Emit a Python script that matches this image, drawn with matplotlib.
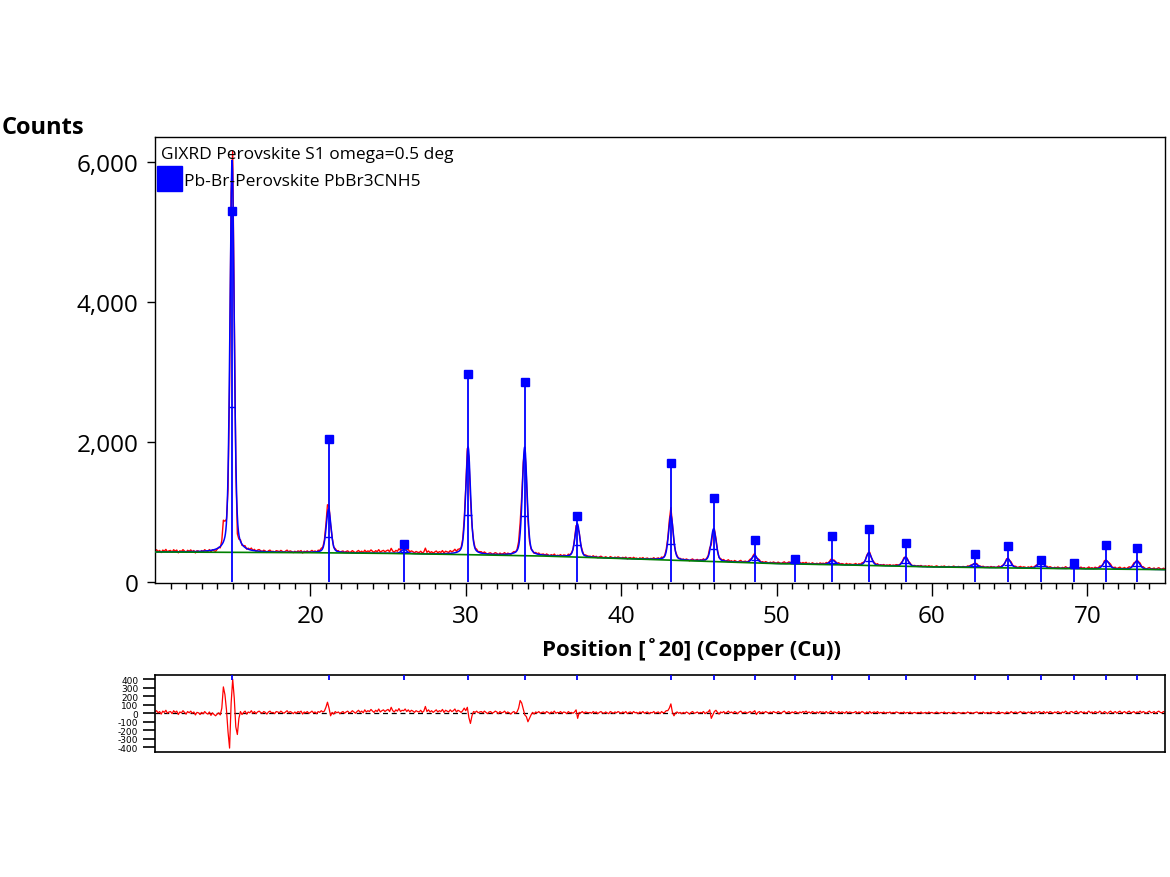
import numpy as np
import matplotlib
matplotlib.use("Agg")
import matplotlib.pyplot as plt
from matplotlib.patches import Rectangle
import matplotlib.transforms as mtransforms

# ---------------- data ----------------
peak_pos = [14.96, 21.17, 26.03, 30.15, 33.79, 37.18, 43.20, 45.95, 48.59, 51.16,
            53.60, 55.94, 58.30, 62.75, 64.89, 67.01, 69.16, 71.22, 73.19]
peak_height = [5600, 625, 60, 1537, 1550, 475, 640, 467, 106, 35,
               60, 180, 130, 52, 130, 90, 20, 120, 118]
peak_fwhm = [0.32, 0.36, 0.40, 0.36, 0.36, 0.36, 0.36, 0.38, 0.40, 0.45,
             0.45, 0.40, 0.40, 0.45, 0.42, 0.45, 0.45, 0.45, 0.45]
ref_intensity = [5300, 2043, 547, 2968, 2862, 939, 1705, 1205, 605, 329,
                 657, 757, 553, 400, 510, 310, 271, 524, 481]
bg_pos = [10, 20, 25, 30, 35, 40, 45, 50, 55, 60, 65, 70, 75]
bg_val = [428, 418, 408, 390, 370, 335, 298, 262, 240, 215, 200, 187, 176]

resid_start = 10.0
resid_step = 0.1
residual = [
    15, 30, 5, 20, -10, 25, 10, 35, 0, 15,          # 10
    20, -5, 30, 10, 25, -15, 15, 5, 30, 10,         # 11
    -10, 20, 5, 25, 0, 15, -20, 10, 5, -15,         # 12
    10, -5, 20, 0, -10, 15, -25, 5, -15, -30,       # 13
    -10, 5, -20, 60, 310, 220, 40, -220, -410, 120,  # 14
    400, 180, -160, -250, -60, 20, -15, 10, 25, -10,  # 15
    15, 5, 30, 0, 20, -5, 15, 25, 10, 0,            # 16
    20, 10, -10, 15, 25, 5, 10, -5, 20, 15,         # 17
    5, 25, 10, 0, 15, 30, 5, 20, 10, -5,            # 18
    15, 0, 20, 10, 25, -10, 15, 5, 20, 0,           # 19
    10, 25, 5, 15, -5, 20, 10, 30, 15, 25,          # 20
    70, 130, 60, -30, 10, -10, 20, 5, 15, -5,       # 21
    10, 20, 0, 15, 25, 5, 10, 30, 15, 0,            # 22
    20, 35, 10, 25, 5, 40, 15, 30, 20, 45,          # 23
    25, 10, 35, 20, 50, 15, 30, 40, 20, 35,         # 24
    45, 20, 70, 30, 15, 40, 25, 55, 20, 35,         # 25
    30, 50, 20, 40, 15, 35, 25, 10, 30, 20,         # 26
    15, 35, 10, 25, 80, 20, 40, 15, 30, 10,         # 27
    25, 40, 15, 30, 20, 45, 10, 35, 25, 15,         # 28
    40, 20, 30, 50, 15, 35, 25, 10, 30, 60,         # 29
    30, 70, -50, -120, -30, 20, 10, 25, 5, 15,      # 30
    20, 5, 25, 10, -5, 15, 20, 0, 10, 25,           # 31
    15, -5, 20, 5, 10, 25, 0, 15, 5, -10,           # 32
    10, 20, 0, 15, 60, 150, 120, 50, -20, -40,      # 33
    -100, -60, -20, 10, -10, 15, 5, 20, 0, 10,      # 34
    15, 0, 20, 10, -5, 15, 5, 25, 0, 10,            # 35
    5, 20, 0, 15, 10, -5, 20, 5, 10, 0,             # 36
    15, 40, -60, 10, 5, 20, 0, 15, 10, 5,           # 37
    10, 0, 20, 5, 15, -5, 10, 20, 5, 0,             # 38
    15, 5, -5, 20, 10, 0, 15, 5, 20, 10,            # 39
    0, 15, 5, 20, -5, 10, 15, 0, 20, 5,             # 40
    10, -5, 15, 5, 20, 0, 10, 15, -5, 10,           # 41
    5, 20, 0, 10, 15, -5, 20, 5, 10, 30,            # 42
    30, 60, 110, 10, -30, 5, 15, 0, 10, -5,         # 43
    10, 0, 15, 5, -10, 10, 20, 0, 5, 15,            # 44
    0, 10, 5, 20, -5, 10, 15, 40, -60, -20,         # 45
    20, 35, 10, -10, 15, 5, 20, 0, 10, 25,          # 46
    5, 15, 0, 20, 10, -5, 15, 25, 5, 10,            # 47
    15, 0, 10, 20, 5, 15, 30, -15, 10, 20,          # 48
    0, 15, 5, 20, 10, 0, 15, 5, 20, 10,             # 49
    5, 20, 10, 0, 15, 25, 5, 10, 20, 0,             # 50
    15, 5, 20, 10, 0, 15, 5, 20, 10, 25,            # 51
    5, 15, 0, 20, 10, 5, 15, 0, 20, 10,             # 52
    15, 5, 20, 0, 10, 25, 5, 15, 10, 0,             # 53
    20, 5, 15, 10, 0, 20, 5, 15, 10, 5,             # 54
    10, 20, 0, 15, 5, 20, 10, -5, 15, 5,            # 55
    20, 0, 10, 15, 5, 20, 0, 10, 5, 15,             # 56
    0, 10, 5, 15, 0, 10, 5, 15, 10, 0,              # 57
    10, 5, 15, 0, 10, 5, 15, 0, 5, 10,              # 58
    0, 10, 5, 15, 0, 5, 10, 0, 15, 5,               # 59
    10, 0, 5, 15, 5, 0, 10, 5, 15, 0,               # 60
    5, 10, 0, 5, 15, 5, 0, 10, 5, 0,                # 61
    10, 5, 0, 15, 5, 10, 0, 5, 10, 15,              # 62
    0, 10, 5, 15, 0, 5, 10, 0, 15, 5,               # 63
    10, 0, 5, 20, 0, 10, 5, -5, 15, 10,             # 64
    0, 20, 5, 10, 15, 0, 10, 20, 5, 15,             # 65
    10, 0, 15, 5, 20, 0, 10, 15, 5, 20,             # 66
    10, 5, 20, 0, 15, 5, 20, 10, 0, 15,             # 67
    5, 20, 10, 0, 15, 5, 25, 10, 0, 15,             # 68
    20, 5, 15, 25, 0, 10, 20, 5, 15, 0,             # 69
    10, 25, 5, 15, 0, 20, 10, 5, 25, 10,            # 70
    0, 20, 10, -5, 15, 25, 5, 10, 20, 0,            # 71
    15, 25, 5, 10, 20, 0, 15, 25, 5, 10,            # 72
    20, 0, 15, 10, 25, 5, 20, 10, 0, 15,            # 73
    25, 5, 10, 20, 0, 15, 25, 10, 5, 20,            # 74
    10,                                             # 75
]

ytick_vals = [0, 2000, 4000, 6000]
ytick_labels = ["0", "2,000", "4,000", "6,000"]
xtick_vals = [20, 30, 40, 50, 60, 70]
res_ticks = [400, 300, 200, 100, 0, -100, -200, -300, -400]

title_text = "GIXRD Perovskite S1 omega=0.5 deg"
phase_text = "Pb-Br-Perovskite PbBr3CNH5"
ylabel_text = "Counts"
xlabel_text = "Position [˚20] (Copper (Cu))"

# ---------------- model ----------------
def calc_profile(x):
    y = np.interp(x, bg_pos, bg_val).astype(float)
    for p, h, w in zip(peak_pos, peak_height, peak_fwhm):
        d = (x - p) / w
        lor = 1.0 / (1.0 + 4.0 * d ** 2)
        gau = np.exp(-4.0 * np.log(2) * d ** 2)
        y += h * (0.35 * lor + 0.65 * gau)
    return y

x_res = resid_start + resid_step * np.arange(len(residual))
res = np.array(residual, dtype=float)
obs = calc_profile(x_res) + res
x_fine = np.arange(10.0, 75.0001, 0.01)
calc = calc_profile(x_fine)

plt.rcParams['font.family'] = ['Open Sans', 'DejaVu Sans']

fig = plt.figure(figsize=(11.7, 8.78), dpi=100)
W, H = 1170, 878
ax = fig.add_axes([155 / W, 1 - 584 / H, 1010 / W, 446 / H])
ax2 = fig.add_axes([155 / W, 1 - 752.5 / H, 1010 / W, 76.5 / H])

BLUE = '#0000FF'
# observed
ax.plot(x_res, obs, color='red', lw=1.0, zorder=2)
# calculated
ax.plot(x_fine, calc, color=BLUE, lw=1.1, zorder=3)
# background
ax.plot(bg_pos, bg_val, color='#008000', lw=1.2, zorder=4)
# FWHM-type bars
for p, h, w in zip(peak_pos, peak_height, peak_fwhm):
    yb = np.interp(p, bg_pos, bg_val) + 0.37 * h
    ax.hlines(yb, p - 0.65 * w, p + 0.65 * w, color=BLUE, lw=1.0, zorder=5)
# reference sticks
ax.vlines(peak_pos, 0, ref_intensity, color=BLUE, lw=1.3, zorder=6)
ax.plot(peak_pos, ref_intensity, ls='none', marker='s', ms=5.5,
        color=BLUE, zorder=7)

ax.set_xlim(10, 75)
ax.set_ylim(-15, 6357)
ax.set_yticks(ytick_vals)
ax.set_yticklabels(ytick_labels)
ax.set_xticks(xtick_vals)
ax.set_xticks(np.arange(11, 75, 1), minor=True)
ax.tick_params(axis='y', direction='out', length=6, width=1, labelsize=17.5, pad=6)
ax.tick_params(axis='x', which='major', direction='out', length=9, width=1,
               labelsize=17.5, pad=6)
ax.tick_params(axis='x', which='minor', direction='out', length=4, width=1)
for s in ax.spines.values():
    s.set_linewidth(1.0)

# legend-ish texts
ax.text(6 / 1010, 1 - 17 / 446, title_text, transform=ax.transAxes,
        fontsize=12.5, va='center', ha='left', zorder=10)
ax.add_patch(Rectangle((2 / 1010, 1 - 54 / 446), 25 / 1010, 25 / 446,
                       transform=ax.transAxes, facecolor=BLUE,
                       edgecolor=BLUE, zorder=10))
ax.text(29 / 1010, 1 - 44 / 446, phase_text, transform=ax.transAxes,
        fontsize=12.5, va='center', ha='left', zorder=10)

fig.text(2 / W, 1 - 128 / H, ylabel_text, fontsize=17, fontweight='bold',
         ha='left', va='center')
fig.text(692 / W, 1 - 650 / H, xlabel_text, fontsize=16, fontweight='bold',
         ha='center', va='center')

# residual panel
ax2.plot(x_res, res, color='red', lw=0.9, zorder=2)
ax2.axhline(0, color='black', lw=0.9, ls=(0, (4, 3)), zorder=1)
trans = mtransforms.blended_transform_factory(ax2.transData, ax2.transAxes)
ax2.vlines(peak_pos, 0.93, 1.0, transform=trans, color=BLUE, lw=1.3, zorder=3)
ax2.set_xlim(10, 75)
ax2.set_ylim(-450, 450)
ax2.set_xticks([])
ax2.set_yticks(res_ticks)
ax2.set_yticklabels([str(v) for v in res_ticks], family='DejaVu Sans')
ax2.tick_params(axis='y', direction='out', length=9, width=1.2, labelsize=6.5, pad=3)
for s in ax2.spines.values():
    s.set_linewidth(1.2)

fig.savefig('out.png', dpi=100, facecolor='white')
